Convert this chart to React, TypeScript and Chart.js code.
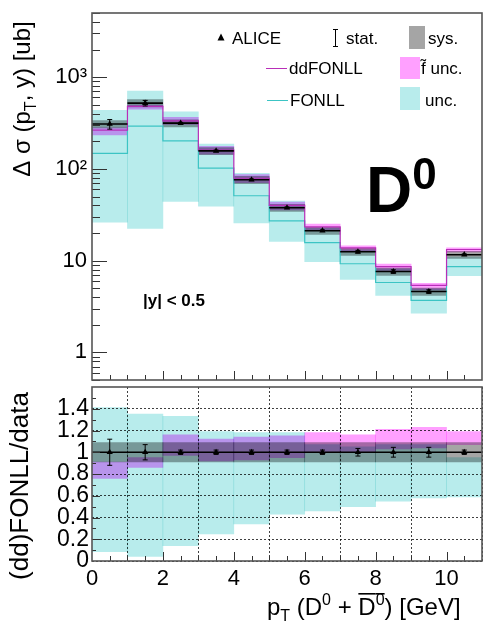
import React, { useEffect, useRef } from "react";
import { Chart, registerables } from "chart.js";

Chart.register(...registerables);

const FONT = "'Liberation Sans', Arial, Helvetica, sans-serif";

// ---------------- data ----------------
const binLow = [0, 1, 2, 3, 4, 5, 6, 7, 8, 9, 10];
const binHigh = [1, 2, 3, 4, 5, 6, 7, 8, 9, 10, 11];
const aliceSigma = [308, 521, 315, 157, 76, 37.7, 21.2, 12.5, 7.6, 4.6, 11.6];
const aliceStatRel = [0.12, 0.07, 0.02, 0.02, 0.02, 0.02, 0.02, 0.035, 0.045, 0.045, 0.02];
const aliceSysRel = [0.09, 0.09, 0.09, 0.09, 0.09, 0.09, 0.09, 0.09, 0.09, 0.09, 0.09];
const fonllCenRatio = [0.48, 0.56, 0.64, 0.65, 0.67, 0.72, 0.74, 0.74, 0.76, 0.8, 0.74];
const fonllLoRatio = [0.085, 0.043, 0.14, 0.25, 0.34, 0.43, 0.46, 0.5, 0.55, 0.58, 0.59];
const fonllHiRatio = [1.41, 1.35, 1.33, 1.19, 1.18, 1.18, 1.07, 1.05, 1.07, 1.07, 0.95];
const ddCenRatio = [0.86, 0.92, 1.06, 1.02, 1.04, 1.06, 1.1, 1.1, 1.13, 1.17, 1.14];
const ddLoRatio = [0.76, 0.86, 0.97, 0.92, 0.93, 0.95, 1.0, 1.0, 1.03, 1.04, 1.07];
const ddHiRatio = [0.91, 0.95, 1.16, 1.12, 1.14, 1.15, 1.18, 1.16, 1.21, 1.23, 1.19];

const topYLabelValues = [1, 10, 100, 1000];
const topYLabelTexts = ["1", "10", "10²", "10³"];
const ratioYTicks = [0, 0.2, 0.4, 0.6, 0.8, 1, 1.2, 1.4];
const xLabelTicks = [0, 2, 4, 6, 8, 10];

// ---------------- colours ----------------
const CYAN_FILL = "rgb(184,236,236)";
const PINK_FILL = "rgb(255,160,255)";
const SYS_FILL = "rgb(165,165,165)";
const FONLL_LINE = "#3cc4c4";
const DD_LINE = "#b82eb8";
const FRAME = "#555";

// ---------------- helpers ----------------
const centers = binLow.map((l, i) => (l + binHigh[i]) / 2);
const mul = (a: number[], b: number[]) => a.map((v, i) => v * b[i]);
const ones = aliceSigma.map(() => 1);

function floatBars(lo: number[], hi: number[]) {
  return centers.map((c, i) => ({ x: c, y: [lo[i], hi[i]] }));
}
function stepPoints(vals: number[]) {
  const pts: any[] = vals.map((v, i) => ({ x: binLow[i], y: v }));
  pts.push({ x: binHigh[binHigh.length - 1], y: vals[vals.length - 1] });
  return pts;
}
function segPoints(vals: number[]) {
  const pts: any[] = [];
  vals.forEach((v, i) => {
    pts.push({ x: binLow[i], y: v }, { x: binHigh[i], y: v }, { x: binHigh[i], y: null });
  });
  return pts;
}
function errPoints(vals: number[], rel: number[]) {
  const pts: any[] = [];
  const cap = 0.07;
  vals.forEach((v, i) => {
    const lo = v * (1 - rel[i]);
    const hi = v * (1 + rel[i]);
    const c = centers[i];
    pts.push({ x: c, y: lo }, { x: c, y: hi }, { x: c, y: null });
    pts.push({ x: c - cap, y: hi }, { x: c + cap, y: hi }, { x: c + cap, y: null });
    pts.push({ x: c - cap, y: lo }, { x: c + cap, y: lo }, { x: c + cap, y: null });
  });
  return pts;
}

function bandDataset(data: any[], color: string, order: number) {
  return {
    type: "bar",
    data,
    backgroundColor: color,
    borderWidth: 0,
    grouped: false,
    barPercentage: 1,
    categoryPercentage: 1,
    order,
    blend: true,
  } as any;
}
function lineDataset(data: any[], color: string, width: number, order: number, stepped = false) {
  return {
    type: "line",
    data,
    borderColor: color,
    borderWidth: width,
    pointRadius: 0,
    fill: false,
    stepped,
    spanGaps: false,
    order,
  } as any;
}
function markerDataset(data: any[], order: number) {
  return {
    type: "line",
    data,
    showLine: false,
    pointStyle: "triangle",
    pointRadius: 3.6,
    pointBackgroundColor: "#000",
    pointBorderColor: "#000",
    pointBorderWidth: 0,
    order,
  } as any;
}

type Part = { t: string; size: number; bold?: boolean; dy?: number; over?: number };
function drawRich(ctx: CanvasRenderingContext2D, x: number, y: number, parts: Part[], align: "left" | "center" = "left") {
  const widths = parts.map((p) => {
    ctx.font = `${p.bold ? "bold " : ""}${p.size}px ${FONT}`;
    return ctx.measureText(p.t).width;
  });
  const total = widths.reduce((a, b) => a + b, 0);
  let cx = align === "center" ? x - total / 2 : x;
  parts.forEach((p, i) => {
    ctx.font = `${p.bold ? "bold " : ""}${p.size}px ${FONT}`;
    ctx.fillText(p.t, cx, y + (p.dy || 0));
    if (p.over) ctx.fillRect(cx, y - p.over, widths[i], 1.6);
    cx += widths[i];
  });
}

const blendPlugin = {
  id: "blendPlugin",
  beforeDatasetDraw(chart: any, args: any) {
    const ds = chart.data.datasets[args.index];
    if (ds.blend) {
      chart.ctx.save();
      chart.ctx.globalCompositeOperation = "multiply";
    }
  },
  afterDatasetDraw(chart: any, args: any) {
    const ds = chart.data.datasets[args.index];
    if (ds.blend) chart.ctx.restore();
  },
};

function drawFrameAndXTicks(chart: any) {
  const ctx = chart.ctx as CanvasRenderingContext2D;
  const { left, right, top, bottom } = chart.chartArea;
  const xs = chart.scales.x;
  ctx.save();
  ctx.strokeStyle = "#333";
  ctx.lineWidth = 1;
  for (let v = 0.5; v < 11; v += 0.5) {
    const px = Math.round(xs.getPixelForValue(v)) + 0.5;
    const len = v % 2 === 0 ? 9 : 5;
    ctx.beginPath();
    ctx.moveTo(px, bottom);
    ctx.lineTo(px, bottom - len);
    ctx.stroke();
  }
  ctx.strokeStyle = FRAME;
  ctx.lineWidth = 1.6;
  ctx.strokeRect(left, top, right - left, bottom - top);
  ctx.restore();
}

const topDecor = {
  id: "topDecor",
  afterDraw(chart: any) {
    const ctx = chart.ctx as CanvasRenderingContext2D;
    const { left } = chart.chartArea;
    const ys = chart.scales.y;
    ctx.save();
    // inside log ticks on the y axis
    ctx.strokeStyle = "#333";
    ctx.lineWidth = 1;
    for (let k = -1; k <= 3; k++) {
      for (let m = 1; m <= 9; m++) {
        const v = m * Math.pow(10, k);
        if (v < 0.5 || v > 5000) continue;
        const py = Math.round(ys.getPixelForValue(v)) + 0.5;
        const len = m === 1 ? 15 : 8;
        ctx.beginPath();
        ctx.moveTo(left, py);
        ctx.lineTo(left + len, py);
        ctx.stroke();
      }
    }
    ctx.restore();
    drawFrameAndXTicks(chart);

    ctx.save();
    ctx.fillStyle = "#000";
    ctx.textBaseline = "alphabetic";
    // legend row 1
    ctx.beginPath();
    ctx.moveTo(221, 33.5);
    ctx.lineTo(224.5, 40.5);
    ctx.lineTo(217.5, 40.5);
    ctx.closePath();
    ctx.fill();
    drawRich(ctx, 232, 44, [{ t: "ALICE", size: 17 }]);
    ctx.strokeStyle = "#000";
    ctx.lineWidth = 1;
    ctx.beginPath();
    ctx.moveTo(335.5, 29);
    ctx.lineTo(335.5, 47);
    ctx.moveTo(333, 29.5);
    ctx.lineTo(338, 29.5);
    ctx.moveTo(333, 46.5);
    ctx.lineTo(338, 46.5);
    ctx.stroke();
    drawRich(ctx, 346, 44, [{ t: "stat.", size: 17 }]);
    ctx.fillStyle = SYS_FILL;
    ctx.fillRect(409, 26, 16, 23);
    ctx.fillStyle = "#000";
    drawRich(ctx, 428, 44, [{ t: "sys.", size: 17 }]);
    // row 2
    ctx.strokeStyle = DD_LINE;
    ctx.beginPath();
    ctx.moveTo(266, 68.5);
    ctx.lineTo(287, 68.5);
    ctx.stroke();
    drawRich(ctx, 289, 74, [{ t: "ddFONLL", size: 17 }]);
    ctx.fillStyle = PINK_FILL;
    ctx.fillRect(400, 57, 20, 22);
    ctx.fillStyle = "#000";
    drawRich(ctx, 421, 74, [{ t: "f̃ unc.", size: 17 }]);
    // row 3
    ctx.strokeStyle = FONLL_LINE;
    ctx.beginPath();
    ctx.moveTo(267, 100.5);
    ctx.lineTo(288, 100.5);
    ctx.stroke();
    drawRich(ctx, 290, 106, [{ t: "FONLL", size: 17 }]);
    ctx.fillStyle = CYAN_FILL;
    ctx.fillRect(400, 87, 20, 23);
    ctx.fillStyle = "#000";
    drawRich(ctx, 425, 106, [{ t: "unc.", size: 17 }]);

    // D0 label
    drawRich(ctx, 366, 212, [
      { t: "D", size: 64, bold: true },
      { t: "0", size: 44, bold: true, dy: -23 },
    ]);
    // rapidity label
    drawRich(ctx, 143, 306, [{ t: "|y| < 0.5", size: 17, bold: true }]);

    // y title
    ctx.translate(30, 99);
    ctx.rotate(-Math.PI / 2);
    drawRich(
      ctx,
      0,
      0,
      [
        { t: "Δ σ (p", size: 24 },
        { t: "T", size: 16, dy: 6 },
        { t: ", y) [ub]", size: 24 },
      ],
      "center"
    );
    ctx.restore();
  },
};

const botDecor = {
  id: "botDecor",
  afterDraw(chart: any) {
    const ctx = chart.ctx as CanvasRenderingContext2D;
    const { left } = chart.chartArea;
    const ys = chart.scales.y;
    ctx.save();
    ctx.strokeStyle = "#333";
    ctx.lineWidth = 1;
    for (let v = 0.1; v < 1.6; v += 0.1) {
      const py = Math.round(ys.getPixelForValue(v)) + 0.5;
      const isMajor = Math.abs(Math.round(v * 10) % 2) === 0;
      const len = isMajor ? 8 : 4;
      ctx.beginPath();
      ctx.moveTo(left, py);
      ctx.lineTo(left + len, py);
      ctx.stroke();
    }
    ctx.restore();
    drawFrameAndXTicks(chart);

    ctx.save();
    ctx.fillStyle = "#000";
    // x title
    drawRich(ctx, 267, 234, [
      { t: "p", size: 24 },
      { t: "T", size: 16, dy: 6 },
      { t: " (D", size: 24 },
      { t: "0", size: 16, dy: -10 },
      { t: " + ", size: 24 },
      { t: "D", size: 24, over: 22 },
      { t: "0", size: 16, dy: -10, over: 22 },
      { t: ") [GeV]", size: 24 },
    ]);
    // y title
    ctx.translate(28, 105);
    ctx.rotate(-Math.PI / 2);
    drawRich(ctx, 0, 0, [{ t: "(dd)FONLL/data", size: 26 }], "center");
    ctx.restore();
  },
};

function baseOptions() {
  return {
    responsive: false,
    maintainAspectRatio: false,
    devicePixelRatio: 1,
    animation: false as const,
    events: [] as any[],
    plugins: { legend: { display: false }, tooltip: { enabled: false } },
  };
}

function topConfig(): any {
  const lo = mul(aliceSigma, fonllLoRatio);
  const hi = mul(aliceSigma, fonllHiRatio);
  const ddLo = mul(aliceSigma, ddLoRatio);
  const ddHi = mul(aliceSigma, ddHiRatio);
  const sysLo = aliceSigma.map((v, i) => v * (1 - aliceSysRel[i]));
  const sysHi = aliceSigma.map((v, i) => v * (1 + aliceSysRel[i]));
  return {
    type: "bar",
    data: {
      datasets: [
        bandDataset(floatBars(lo, hi), CYAN_FILL, 10),
        bandDataset(floatBars(ddLo, ddHi), PINK_FILL, 9),
        bandDataset(floatBars(sysLo, sysHi), SYS_FILL, 8),
        lineDataset(stepPoints(mul(aliceSigma, fonllCenRatio)), FONLL_LINE, 1.2, 7, true),
        lineDataset(stepPoints(mul(aliceSigma, ddCenRatio)), DD_LINE, 1.2, 6, true),
        lineDataset(segPoints(aliceSigma), "#000", 1.6, 5),
        lineDataset(errPoints(aliceSigma, aliceStatRel), "#000", 1, 4),
        markerDataset(centers.map((c, i) => ({ x: c, y: aliceSigma[i] })), 3),
      ],
    },
    options: {
      ...baseOptions(),
      layout: { padding: { top: 13, right: 2, bottom: 0, left: 0 } },
      scales: {
        x: {
          type: "linear",
          min: 0,
          max: 11,
          offset: false,
          grid: { display: false },
          border: { display: false },
          ticks: { display: false },
          afterFit: (s: any) => {
            s.height = 6;
            s.paddingLeft = 0;
            s.paddingRight = 0;
          },
        },
        y: {
          type: "logarithmic",
          min: 0.5,
          max: 5000,
          grid: { display: false, drawTicks: false },
          border: { display: false },
          afterBuildTicks: (s: any) => {
            s.ticks = topYLabelValues.map((v) => ({ value: v }));
          },
          ticks: {
            autoSkip: false,
            padding: 5,
            color: "#000",
            font: { family: FONT, size: 22 },
            callback: (v: any) => {
              const i = topYLabelValues.indexOf(Number(v));
              return i >= 0 ? topYLabelTexts[i] : "";
            },
          },
          afterFit: (s: any) => {
            s.width = 92;
            s.paddingTop = 0;
            s.paddingBottom = 0;
          },
        },
      },
    },
    plugins: [blendPlugin, topDecor],
  };
}

function botConfig(): any {
  const sysLo = aliceSysRel.map((r) => 1 - r);
  const sysHi = aliceSysRel.map((r) => 1 + r);
  return {
    type: "bar",
    data: {
      datasets: [
        bandDataset(floatBars(fonllLoRatio, fonllHiRatio), CYAN_FILL, 10),
        bandDataset(floatBars(ddLoRatio, ddHiRatio), PINK_FILL, 9),
        bandDataset(floatBars(sysLo, sysHi), SYS_FILL, 8),
        lineDataset(segPoints(ones), "#000", 1.6, 5),
        lineDataset(errPoints(ones, aliceStatRel), "#000", 1, 4),
        markerDataset(centers.map((c) => ({ x: c, y: 1 })), 3),
      ],
    },
    options: {
      ...baseOptions(),
      layout: { padding: { top: 6, right: 2, bottom: 0, left: 0 } },
      scales: {
        x: {
          type: "linear",
          min: 0,
          max: 11,
          offset: false,
          afterBuildTicks: (s: any) => {
            s.ticks = xLabelTicks.map((v) => ({ value: v }));
          },
          grid: { display: true, drawTicks: false, color: "rgba(0,0,0,0.75)", lineWidth: 1 },
          border: { display: false, dash: [2, 2] },
          ticks: {
            autoSkip: false,
            maxRotation: 0,
            padding: 5,
            color: "#000",
            font: { family: FONT, size: 22 },
            callback: (v: any) => String(v),
          },
          afterFit: (s: any) => {
            s.height = 64;
            s.paddingLeft = 0;
            s.paddingRight = 0;
          },
        },
        y: {
          type: "linear",
          min: 0,
          max: 1.6,
          afterBuildTicks: (s: any) => {
            s.ticks = ratioYTicks.map((v) => ({ value: v }));
          },
          grid: { display: true, drawTicks: false, color: "rgba(0,0,0,0.75)", lineWidth: 1 },
          border: { display: false, dash: [2, 2] },
          ticks: {
            autoSkip: false,
            padding: 3,
            color: "#000",
            font: { family: FONT, size: 23 },
            callback: (v: any) => String(v),
          },
          afterFit: (s: any) => {
            s.width = 92;
            s.paddingTop = 0;
            s.paddingBottom = 0;
          },
        },
      },
    },
    plugins: [blendPlugin, botDecor],
  };
}

export default function App() {
  const topRef = useRef<HTMLCanvasElement>(null);
  const botRef = useRef<HTMLCanvasElement>(null);
  useEffect(() => {
    const top = new Chart(topRef.current as HTMLCanvasElement, topConfig());
    const bot = new Chart(botRef.current as HTMLCanvasElement, botConfig());
    return () => {
      top.destroy();
      bot.destroy();
    };
  }, []);
  return (
    <div style={{ position: "absolute", left: 0, top: 0, width: 486, height: 625, background: "#fff" }}>
      <canvas
        ref={topRef}
        width={486}
        height={386}
        style={{ position: "absolute", left: 0, top: 0, width: 486, height: 386 }}
      />
      <canvas
        ref={botRef}
        width={486}
        height={244}
        style={{ position: "absolute", left: 0, top: 381, width: 486, height: 244 }}
      />
    </div>
  );
}
